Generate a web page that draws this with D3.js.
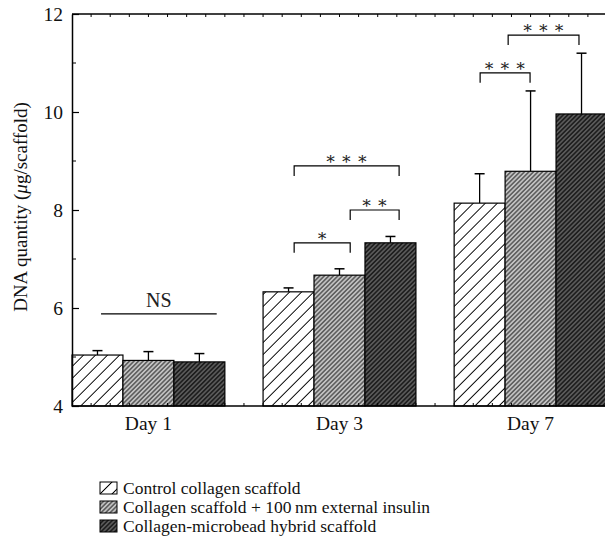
<!DOCTYPE html>
<html>
<head>
<meta charset="utf-8">
<script src="https://cdn.jsdelivr.net/npm/d3@7"></script>
<style>
  body { margin: 0; background: #fff; }
  svg { display: block; font-family: "Liberation Serif", "DejaVu Serif", serif; }
</style>
</head>
<body>
<div id="chart"></div>
<script>
// data
var days = ["Day 1", "Day 3", "Day 7"];
var seriesNames = [
    "Control collagen scaffold",
    "Collagen scaffold + 100\u2009nm external insulin",
    "Collagen-microbead hybrid scaffold"
];
var control = [5.04, 6.33, 8.14];
var insulin = [4.93, 6.67, 8.79];
var hybrid = [4.90, 7.33, 9.96];
var controlErr = [0.09, 0.08, 0.60];
var insulinErr = [0.18, 0.13, 1.64];
var hybridErr = [0.17, 0.13, 1.24];
var yTicks = [4, 6, 8, 10, 12];
// significance marks: day, start/end in bar units inside the group, height, label
var sigDays = ["Day 1", "Day 3", "Day 3", "Day 3", "Day 7", "Day 7"];
var sigFrom = [0.57, 0.61, 1.71, 0.61, 0.51, 1.06];
var sigTo = [2.84, 1.71, 2.67, 2.67, 1.49, 2.45];
var sigY = [5.88, 7.33, 8.0, 8.9, 10.8, 11.57];
var sigLabel = ["NS", "\u2217", "\u2217 \u2217", "\u2217 \u2217 \u2217", "\u2217 \u2217 \u2217", "\u2217 \u2217 \u2217"];

var means = [control, insulin, hybrid];
var errs = [controlErr, insulinErr, hybridErr];
var patIds = ["pat-control", "pat-insulin", "pat-hybrid"];

var width = 605, height = 541,
    mLeft = 72, mTop = 14, mBottom = 406, mRight = 607;

var svg = d3.select("#chart").append("svg")
    .attr("width", width)
    .attr("height", height);

var defs = svg.append("defs");

function hatch(id, bg, gap, stroke, sw) {
    var p = defs.append("pattern")
        .attr("id", id)
        .attr("patternUnits", "userSpaceOnUse")
        .attr("width", gap)
        .attr("height", gap)
        .attr("patternTransform", "rotate(45)");
    p.append("rect").attr("width", gap).attr("height", gap).attr("fill", bg);
    p.append("line")
        .attr("x1", gap / 2).attr("y1", 0)
        .attr("x2", gap / 2).attr("y2", gap)
        .attr("stroke", stroke)
        .attr("stroke-width", sw);
}
hatch("pat-control", "#fff", 8.5, "#000", 1);
hatch("pat-insulin", "#c2c2c2", 3.2, "#111", 0.9);
hatch("pat-hybrid", "#5a5a5a", 3.2, "#151515", 1.4);

var x = d3.scaleBand()
    .domain(days)
    .range([mLeft, mRight])
    .paddingInner(0.2)
    .paddingOuter(0);

var xs = d3.scaleBand()
    .domain(d3.range(3))
    .range([0, x.bandwidth()]);

var y = d3.scaleLinear()
    .domain([4, 12])
    .range([mBottom, mTop]);

// linear scale behind the category axis, used only for the minor ticks
var xl = d3.scaleLinear()
    .domain([1, 3])
    .range([x("Day 1") + x.bandwidth() / 2, x("Day 7") + x.bandwidth() / 2]);

// bars
var groups = svg.selectAll(".day")
    .data(days)
    .enter().append("g")
    .attr("class", "day")
    .attr("transform", function(d) { return "translate(" + x(d) + ",0)"; });

groups.each(function(day, di) {
    var g = d3.select(this);
    for (var s = 0; s < 3; s++) {
        var v = means[s][di], e = errs[s][di];
        var cx = xs(s) + xs.bandwidth() / 2;
        g.append("line")
            .attr("x1", cx).attr("x2", cx)
            .attr("y1", y(v)).attr("y2", y(v + e))
            .attr("stroke", "#000").attr("stroke-width", 1.3);
        g.append("line")
            .attr("x1", cx - 5).attr("x2", cx + 5)
            .attr("y1", y(v + e)).attr("y2", y(v + e))
            .attr("stroke", "#000").attr("stroke-width", 1.5);
        g.append("rect")
            .attr("x", xs(s))
            .attr("y", y(v))
            .attr("width", xs.bandwidth())
            .attr("height", y(4) - y(v))
            .attr("fill", "url(#" + patIds[s] + ")")
            .attr("stroke", "#000")
            .attr("stroke-width", 1.2);
    }
});

// frame and axes
var yAxis = d3.axisLeft(y).tickValues(yTicks).tickSizeInner(-7).tickSizeOuter(0).tickPadding(9)
    .tickFormat(d3.format("d"));
var ga = svg.append("g")
    .attr("transform", "translate(" + mLeft + ",0)")
    .call(yAxis);
ga.select(".domain").attr("stroke-width", 1.5);
ga.selectAll(".tick line").attr("stroke-width", 1.2);
ga.selectAll("text").attr("font-size", 19.5).attr("font-family", "Liberation Serif, serif").attr("fill", "#111");

svg.append("g").selectAll("line")
    .data([5, 7, 9, 11])
    .enter().append("line")
    .attr("x1", mLeft).attr("x2", mLeft + 4)
    .attr("y1", function(d) { return y(d); })
    .attr("y2", function(d) { return y(d); })
    .attr("stroke", "#000");

svg.append("line")
    .attr("x1", mLeft).attr("x2", width)
    .attr("y1", mTop).attr("y2", mTop)
    .attr("stroke", "#000").attr("stroke-width", 1.5);
svg.append("line")
    .attr("x1", mLeft).attr("x2", width)
    .attr("y1", mBottom).attr("y2", mBottom)
    .attr("stroke", "#000").attr("stroke-width", 1.5);

var minor = d3.range(0.6, 3.45, 0.1).filter(function(v) { return xl(v) > mLeft + 1 && xl(v) < width; });
svg.append("g").selectAll("line")
    .data(minor)
    .enter().append("line")
    .attr("x1", function(d) { return xl(d); })
    .attr("x2", function(d) { return xl(d); })
    .attr("y1", mTop).attr("y2", mTop + 3)
    .attr("stroke", "#000");
svg.append("g").selectAll("line")
    .data(minor)
    .enter().append("line")
    .attr("x1", function(d) { return xl(d); })
    .attr("x2", function(d) { return xl(d); })
    .attr("y1", mBottom).attr("y2", mBottom - 3)
    .attr("stroke", "#000");

svg.append("g").selectAll("text")
    .data(days)
    .enter().append("text")
    .attr("x", function(d) { return x(d) + x.bandwidth() / 2; })
    .attr("y", mBottom + 24)
    .attr("text-anchor", "middle")
    .attr("font-size", 19.5)
    .attr("fill", "#111")
    .text(function(d) { return d; });

var title = svg.append("text")
    .attr("transform", "translate(27," + 207 + ") rotate(-90)")
    .attr("text-anchor", "middle")
    .attr("font-size", 19)
    .attr("fill", "#111");
title.append("tspan").text("DNA quantity (");
title.append("tspan").attr("font-style", "italic").text("\u03bc");
title.append("tspan").text("g/scaffold)");

// significance brackets
sigDays.forEach(function(day, i) {
    var x1 = x(day) + sigFrom[i] * xs.bandwidth(),
        x2 = x(day) + sigTo[i] * xs.bandwidth(),
        yy = y(sigY[i]);
    var path = sigLabel[i] === "NS"
        ? "M" + x1 + "," + yy + "H" + x2
        : "M" + x1 + "," + (yy + 10) + "V" + yy + "H" + x2 + "V" + (yy + 10);
    svg.append("path")
        .attr("d", path)
        .attr("fill", "none")
        .attr("stroke", "#000")
        .attr("stroke-width", 1.2);
    svg.append("text")
        .attr("x", (x1 + x2) / 2)
        .attr("y", sigLabel[i] === "NS" ? yy - 7 : yy - 2)
        .attr("text-anchor", "middle")
        .attr("font-size", sigLabel[i] === "NS" ? 20 : 17)
        .attr("fill", "#222")
        .text(sigLabel[i]);
});

// legend
var legend = svg.append("g").attr("transform", "translate(100,488)");
seriesNames.forEach(function(name, i) {
    var row = legend.append("g").attr("transform", "translate(0," + i * 19 + ")");
    row.append("rect")
        .attr("x", 0).attr("y", -6)
        .attr("width", 17).attr("height", 12)
        .attr("fill", "url(#" + patIds[i] + ")")
        .attr("stroke", "#000");
    row.append("text")
        .attr("x", 23).attr("y", 6)
        .attr("font-size", 17.5)
        .attr("fill", "#111")
        .text(name);
});
</script>
</body>
</html>
